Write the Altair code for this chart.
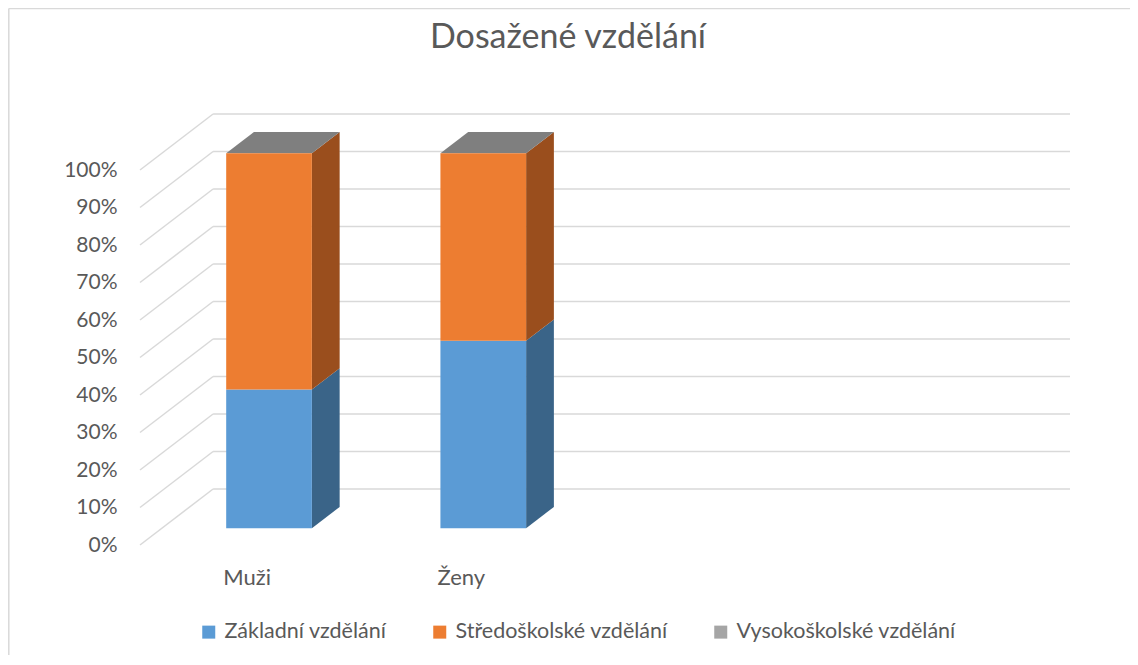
import altair as alt
import pandas as pd

# ---------------- data ----------------
categories = ["Muži", "Ženy"]
series = ["Základní vzdělání", "Středoškolské vzdělání", "Vysokoškolské vzdělání"]
zakladni = [37, 50]
stredoskolske = [63, 50]
vysokoskolske = [0, 0]
tick_values = [0, 10, 20, 30, 40, 50, 60, 70, 80, 90, 100]
n_slots = 4  # category slots on the axis (two are empty)

# ---------------- style ----------------
front_colors = ["#5B9BD5", "#ED7D31", "#A5A5A5"]
side_colors = ["#3A6488", "#9A4E1D", "#6E6E6E"]
top_colors = ["#8DB5E2", "#F1A26C", "#7F7F7F"]
FONT = "Lato"
TXT = "#595959"
GRID = "#D9D9D9"
DX = 73 / 214      # depth shift in category units
DY = 56 / 3.75     # depth shift in percent units
F1, F2 = 0.30, 0.68  # bar front / back depth fraction
HALF = 0.20        # half bar width in category units

values = [zakladni, stredoskolske, vysokoskolske]

front_rows, side_rows, top_rows = [], [], []
for i, cat in enumerate(categories):
    base = 0
    left = i + 0.5 - HALF
    right = i + 0.5 + HALF
    for s, name in enumerate(series):
        v = values[s][i]
        y0, y1 = base, base + v
        front_rows.append(dict(cat=cat, series=name,
                               x=left + F1 * DX, x2=right + F1 * DX,
                               y=y0 + F1 * DY, y2=y1 + F1 * DY))
        face = f"{cat}-{s}"
        if v > 0:
            for f in (F1, F2):
                side_rows.append(dict(face=face, fill=side_colors[s],
                                      x=right + f * DX,
                                      y=y0 + f * DY, y2=y1 + f * DY))
        base = y1
    s = len(series) - 1
    for f in (F1, F2):
        top_rows.append(dict(face=f"{cat}-top", fill=top_colors[s],
                             y=base + f * DY,
                             x=left + f * DX, x2=right + f * DX))

front_df = pd.DataFrame(front_rows)
side_df = pd.DataFrame(side_rows)
top_df = pd.DataFrame(top_rows)

grid_rows = []
for t in tick_values:
    grid_rows.append(dict(x=DX, x2=n_slots + DX, y=t + DY, y2=t + DY))
    grid_rows.append(dict(x=0, x2=DX, y=t, y2=t + DY))
grid_df = pd.DataFrame(grid_rows)

label_df = pd.DataFrame(dict(cat=categories,
                             x=[i + 0.5 for i in range(len(categories))],
                             y=[0] * len(categories)))

xs = alt.Scale(domain=[0, n_slots + DX], nice=False, zero=False)
ys = alt.Scale(domain=[0, 100 + DY], nice=False, zero=False)
yaxis = alt.Axis(values=tick_values, labelExpr="datum.value + '%'",
                 domain=False, ticks=False, grid=False,
                 labelPadding=23, labelFont=FONT, labelFontSize=21,
                 labelColor=TXT, title=None)

one = pd.DataFrame({"a": [0]})
border_left = alt.Chart(one).mark_rule(color=GRID, strokeWidth=1.5).encode(
    x=alt.value(-131.2), y=alt.value(-105.5), y2=alt.value(560))
border_top = alt.Chart(one).mark_rule(color=GRID, strokeWidth=1.5).encode(
    x=alt.value(-131.2), x2=alt.value(1000), y=alt.value(-105.5))

grid = alt.Chart(grid_df).mark_rule(color=GRID, strokeWidth=1.5).encode(
    x=alt.X("x:Q", scale=xs, axis=None),
    x2="x2:Q",
    y=alt.Y("y:Q", scale=ys, axis=yaxis),
    y2="y2:Q",
)

sides = alt.Chart(side_df).mark_area(orient="vertical", opacity=1).encode(
    x=alt.X("x:Q", scale=xs, axis=None),
    y=alt.Y("y:Q", scale=ys, axis=yaxis),
    y2="y2:Q",
    detail="face:N",
    color=alt.Color("fill:N", scale=None),
)

tops = alt.Chart(top_df).mark_area(orient="horizontal", opacity=1).encode(
    y=alt.Y("y:Q", scale=ys, axis=yaxis),
    x=alt.X("x:Q", scale=xs, axis=None),
    x2="x2:Q",
    detail="face:N",
    color=alt.Color("fill:N", scale=None),
)

fronts = alt.Chart(front_df).mark_rect(strokeWidth=0).encode(
    x=alt.X("x:Q", scale=xs, axis=None),
    x2="x2:Q",
    y=alt.Y("y:Q", scale=ys, axis=yaxis),
    y2="y2:Q",
    color=alt.Color("series:N",
                    scale=alt.Scale(domain=series, range=front_colors),
                    legend=alt.Legend(orient="none", legendX=58, legendY=507,
                                      direction="horizontal", columns=3,
                                      title=None, symbolType="square",
                                      symbolSize=169, symbolStrokeWidth=0,
                                      labelFont=FONT, labelFontSize=21.5,
                                      labelColor=TXT, labelOffset=5,
                                      labelLimit=0, columnPadding=42)),
)

labels = alt.Chart(label_df).mark_text(
    font=FONT, fontSize=22, color=TXT, dy=33, baseline="middle", align="center"
).encode(
    x=alt.X("x:Q", scale=xs, axis=None),
    y=alt.Y("y:Q", scale=ys, axis=yaxis),
    text="cat:N",
)

chart = alt.layer(border_left, border_top, grid, sides, tops, fronts, labels).properties(
    width=930, height=431,
    autosize=alt.AutoSizeParams(type="none"),
    padding={"left": 132, "top": 106, "right": 60, "bottom": 110},
    title=alt.TitleParams("Dosažené vzdělání", font=FONT, fontSize=34,
                          fontWeight="normal", color=TXT, anchor="middle",
                          frame="group", dx=-37, offset=0,
                          baseline="alphabetic", dy=74),
).configure_view(stroke=None)

chart.save("out.html", embed_options={"renderer": "svg", "actions": False})
